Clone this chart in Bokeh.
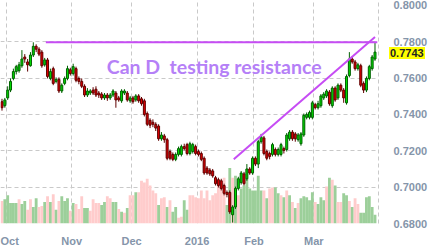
import numpy as np
from bokeh.plotting import figure
from bokeh.models import Range1d, FixedTicker, ColumnDataSource, Label, NumeralTickFormatter, Div
from bokeh.embed import file_html
from bokeh.resources import INLINE

# ---- data (CAD/USD daily, Oct 2015 - Mar 2016) ----
opens = [0.7470,0.7448,0.7491,0.7534,0.7598,0.7636,0.7641,0.7668,0.7716,0.7689,
         0.7668,0.7727,0.7775,0.7759,0.7743,0.7673,0.7700,0.7598,0.7652,0.7582,
         0.7593,0.7529,0.7571,0.7598,0.7646,0.7625,0.7652,0.7598,0.7582,0.7555,
         0.7507,0.7518,0.7534,0.7539,0.7518,0.7512,0.7491,0.7507,0.7491,0.7507,
         0.7518,0.7491,0.7475,0.7518,0.7518,0.7475,0.7491,0.7480,0.7502,0.7486,
         0.7475,0.7405,0.7368,0.7357,0.7346,0.7336,0.7266,0.7282,0.7261,0.7196,
         0.7180,0.7153,0.7180,0.7180,0.7223,0.7234,0.7185,0.7196,0.7223,0.7196,
         0.7185,0.7159,0.7105,0.7094,0.7089,0.7052,0.7041,0.7035,0.7009,0.6971,
         0.6971,0.6848,0.6891,0.6993,0.7025,0.7073,0.7046,0.7100,0.7078,0.7159,
         0.7127,0.7250,0.7271,0.7196,0.7185,0.7180,0.7207,0.7180,0.7180,0.7212,
         0.7207,0.7266,0.7303,0.7293,0.7261,0.7239,0.7287,0.7384,0.7384,0.7384,
         0.7454,0.7437,0.7448,0.7491,0.7502,0.7523,0.7448,0.7545,0.7491,0.7561,
         0.7534,0.7464,0.7614,0.7705,0.7689,0.7652,0.7668,0.7571,0.7534,0.7598,
         0.7652,0.7705]
closes = [0.7437,0.7480,0.7534,0.7582,0.7636,0.7663,0.7673,0.7705,0.7705,0.7673,
          0.7727,0.7775,0.7759,0.7732,0.7668,0.7700,0.7609,0.7636,0.7571,0.7593,
          0.7529,0.7561,0.7598,0.7652,0.7625,0.7663,0.7588,0.7582,0.7555,0.7507,
          0.7529,0.7529,0.7518,0.7507,0.7507,0.7491,0.7507,0.7491,0.7507,0.7529,
          0.7480,0.7480,0.7529,0.7529,0.7480,0.7491,0.7470,0.7502,0.7475,0.7459,
          0.7400,0.7346,0.7341,0.7346,0.7325,0.7266,0.7287,0.7261,0.7159,0.7159,
          0.7153,0.7180,0.7212,0.7223,0.7212,0.7185,0.7239,0.7234,0.7185,0.7180,
          0.7153,0.7078,0.7078,0.7073,0.7062,0.7019,0.7009,0.6993,0.6966,0.6960,
          0.6864,0.6891,0.6993,0.7046,0.7078,0.7019,0.7100,0.7078,0.7159,0.7127,
          0.7250,0.7277,0.7185,0.7159,0.7169,0.7234,0.7180,0.7207,0.7234,0.7202,
          0.7287,0.7303,0.7266,0.7266,0.7287,0.7293,0.7395,0.7400,0.7411,0.7464,
          0.7437,0.7459,0.7502,0.7512,0.7529,0.7459,0.7545,0.7480,0.7561,0.7534,
          0.7491,0.7609,0.7705,0.7689,0.7652,0.7673,0.7561,0.7534,0.7598,0.7663,
          0.7716,0.7743]
highs = [0.7486,0.7491,0.7555,0.7598,0.7652,0.7673,0.7689,0.7754,0.7732,0.7705,
         0.7743,0.7797,0.7786,0.7770,0.7754,0.7711,0.7711,0.7652,0.7663,0.7604,
         0.7604,0.7571,0.7609,0.7668,0.7657,0.7679,0.7663,0.7609,0.7598,0.7566,
         0.7545,0.7539,0.7550,0.7555,0.7529,0.7523,0.7518,0.7518,0.7518,0.7539,
         0.7529,0.7502,0.7539,0.7539,0.7529,0.7502,0.7502,0.7512,0.7512,0.7496,
         0.7486,0.7416,0.7379,0.7373,0.7357,0.7346,0.7303,0.7293,0.7271,0.7207,
         0.7191,0.7191,0.7223,0.7234,0.7239,0.7244,0.7250,0.7244,0.7234,0.7207,
         0.7196,0.7169,0.7116,0.7105,0.7100,0.7062,0.7052,0.7046,0.7019,0.6982,
         0.6982,0.6901,0.7003,0.7057,0.7089,0.7084,0.7127,0.7110,0.7169,0.7169,
         0.7261,0.7293,0.7282,0.7207,0.7196,0.7244,0.7218,0.7218,0.7244,0.7223,
         0.7298,0.7314,0.7314,0.7303,0.7298,0.7303,0.7405,0.7411,0.7421,0.7475,
         0.7464,0.7475,0.7512,0.7523,0.7539,0.7534,0.7555,0.7555,0.7571,0.7571,
         0.7545,0.7620,0.7743,0.7721,0.7700,0.7684,0.7679,0.7582,0.7609,0.7673,
         0.7727,0.7797]
lows = [0.7421,0.7437,0.7480,0.7523,0.7588,0.7620,0.7630,0.7657,0.7684,0.7636,
        0.7663,0.7716,0.7743,0.7721,0.7657,0.7663,0.7598,0.7588,0.7561,0.7571,
        0.7518,0.7518,0.7561,0.7588,0.7614,0.7614,0.7577,0.7566,0.7545,0.7496,
        0.7496,0.7507,0.7507,0.7496,0.7491,0.7480,0.7480,0.7475,0.7480,0.7496,
        0.7437,0.7470,0.7464,0.7507,0.7470,0.7464,0.7459,0.7470,0.7464,0.7448,
        0.7389,0.7336,0.7325,0.7330,0.7309,0.7255,0.7255,0.7244,0.7148,0.7148,
        0.7143,0.7143,0.7169,0.7169,0.7202,0.7175,0.7175,0.7185,0.7175,0.7169,
        0.7143,0.7068,0.7068,0.7062,0.7052,0.7009,0.6998,0.6982,0.6955,0.6944,
        0.6853,0.6805,0.6880,0.6982,0.7014,0.7009,0.7035,0.7068,0.7068,0.7116,
        0.7105,0.7239,0.7175,0.7148,0.7153,0.7169,0.7169,0.7169,0.7169,0.7185,
        0.7196,0.7255,0.7255,0.7250,0.7250,0.7228,0.7277,0.7373,0.7373,0.7373,
        0.7427,0.7427,0.7437,0.7480,0.7491,0.7448,0.7437,0.7470,0.7480,0.7523,
        0.7464,0.7454,0.7604,0.7679,0.7641,0.7641,0.7550,0.7518,0.7523,0.7588,
        0.7641,0.7695]
volume = [23,25,29,21,21,21,25,20,23,14,25,17,26,17,18,22,28,22,30,14,
          23,28,23,26,13,21,20,15,28,16,16,13,25,21,21,19,22,28,26,22,
          22,15,12,11,16,29,29,32,32,44,42,46,39,34,31,19,26,27,17,24,
          12,17,6,7,24,14,29,29,27,26,34,26,34,24,29,31,39,42,47,19,
          57,47,49,29,36,39,46,36,34,34,49,34,34,26,36,37,37,31,29,27,
          34,29,22,16,21,26,28,27,24,32,22,20,27,24,38,47,45,39,22,22,
          31,29,23,17,26,20,11,11,27,28,17,9]
vol_up = [0,1,1,1,1,1,0,1,1,0,0,1,1,0,0,1,0,1,0,1,
          0,1,1,1,0,1,0,0,0,1,1,0,0,0,0,1,1,0,0,1,
          1,0,1,0,1,0,0,1,0,0,0,0,0,0,0,1,0,0,1,0,
          1,1,0,0,1,1,0,0,0,0,0,0,0,0,0,0,0,0,0,1,
          1,0,1,0,1,1,1,1,1,1,1,1,0,1,0,0,1,1,0,1,
          0,1,0,1,0,1,1,1,1,1,0,1,1,1,0,1,0,1,0,0,
          1,1,0,1,0,0,1,1,1,1,1,1]

month_labels = ["Oct", "Nov", "Dec", "2016", "Feb", "Mar"]
month_start = [1.5, 24.5, 45.5, 68.5, 88.5, 109.5]
price_ticks = [0.68, 0.70, 0.72, 0.74, 0.76, 0.78, 0.80]
grid_prices = [0.70, 0.72, 0.74, 0.76, 0.78]

resistance_level = 0.7797
resistance_from, resistance_to = 15.4, 131.8
trend_x = [81.4, 131.0]
trend_y = [0.7154, 0.7826]
last_price = 0.7743
annotation = "Can D\u00a0 testing resistance"

# ---- build ----
n = len(closes)
idx = np.arange(n)
up = np.array(closes) >= np.array(opens)
src = ColumnDataSource(dict(
    x=idx, o=opens, c=closes, h=highs, l=lows,
    top=np.maximum(opens, closes), bot=np.minimum(opens, closes),
    fill=np.where(up, "#00dc00", "#e00000"),
    edge=np.where(up, "#006000", "#600000"),
    vol=volume,
    vcol=np.where(np.array(vol_up) == 1, "#9ccf9a", "#ffcccc"),
))

p = figure(width=430, height=249, output_backend="svg", toolbar_location=None,
           x_range=Range1d(-0.523, 132.23), y_range=Range1d(0.68, 0.8027),
           y_axis_location="right",
           min_border_left=0, min_border_top=0, min_border_right=49, min_border_bottom=20)
p.extra_y_ranges = {"vol": Range1d(0, 229)}
p.outline_line_color = None
p.background_fill_color = "white"

grid_col = "#c9c9c9"
p.xgrid.ticker = FixedTicker(ticks=month_start)
p.ygrid.ticker = FixedTicker(ticks=grid_prices)
for g in (p.xgrid, p.ygrid):
    g.grid_line_color = grid_col
    g.grid_line_dash = "4 3"
    g.grid_line_width = 1

lab_col = "#8595aa"
xa = p.xaxis[0]
xa.ticker = FixedTicker(ticks=month_start)
xa.major_label_overrides = {m: t for m, t in zip(month_start, month_labels)}
xa.axis_line_color = None
xa.major_tick_line_color = None
xa.minor_tick_line_color = None
xa.major_label_standoff = 5
xa.major_label_text_font = "Liberation Sans"
xa.major_label_text_font_style = "bold"
xa.major_label_text_font_size = "11px"
xa.major_label_text_color = lab_col

ya = p.yaxis[0]
ya.ticker = FixedTicker(ticks=price_ticks)
ya.formatter = NumeralTickFormatter(format="0.0000")
ya.axis_line_color = grid_col
ya.axis_line_dash = "4 3"
ya.major_tick_line_color = None
ya.minor_tick_line_color = None
ya.major_label_standoff = 9
ya.major_label_text_font = "Liberation Sans"
ya.major_label_text_font_style = "bold"
ya.major_label_text_font_size = "11px"
ya.major_label_text_color = lab_col

# volume
p.vbar(x="x", top="vol", bottom=0, width=1.0, fill_color="vcol", line_color=None,
       source=src, y_range_name="vol")

# candles
p.segment(x0="x", y0="h", x1="x", y1="l", line_color="edge", line_width=1, source=src)
p.vbar(x="x", top="top", bottom="bot", width=0.7, fill_color="fill", line_color="edge",
       line_width=1, source=src)

# resistance + trend lines
line_col = "#c64cf4"
p.line([resistance_from, resistance_to], [resistance_level, resistance_level],
       line_color=line_col, line_width=2)
p.line(trend_x, trend_y, line_color=line_col, line_width=2)

p.add_layout(Label(x=36.8, y=0.7663, text=annotation, text_baseline="middle",
                   text_font="Lato", text_font_style="bold", text_font_size="19.5px",
                   text_color="#b580f7"))

# last-price tag, overlaid on the axis margin (position from the plot's y scale)
y0, y1 = p.y_range.start, p.y_range.end
tag_top = (y1 - last_price) / (y1 - y0) * 229 - 6
tag = Div(text=f"{last_price:.4f}",
          styles={"position": "absolute", "left": "389px", "top": f"{tag_top:.0f}px",
                  "background-color": "#ffff00", "color": "#222222",
                  "font-family": "Liberation Sans", "font-weight": "bold",
                  "font-size": "11px", "line-height": "12px", "padding": "0px 1px",
                  "margin": "0px"})

open("out.html", "w").write(file_html([p, tag], INLINE))
